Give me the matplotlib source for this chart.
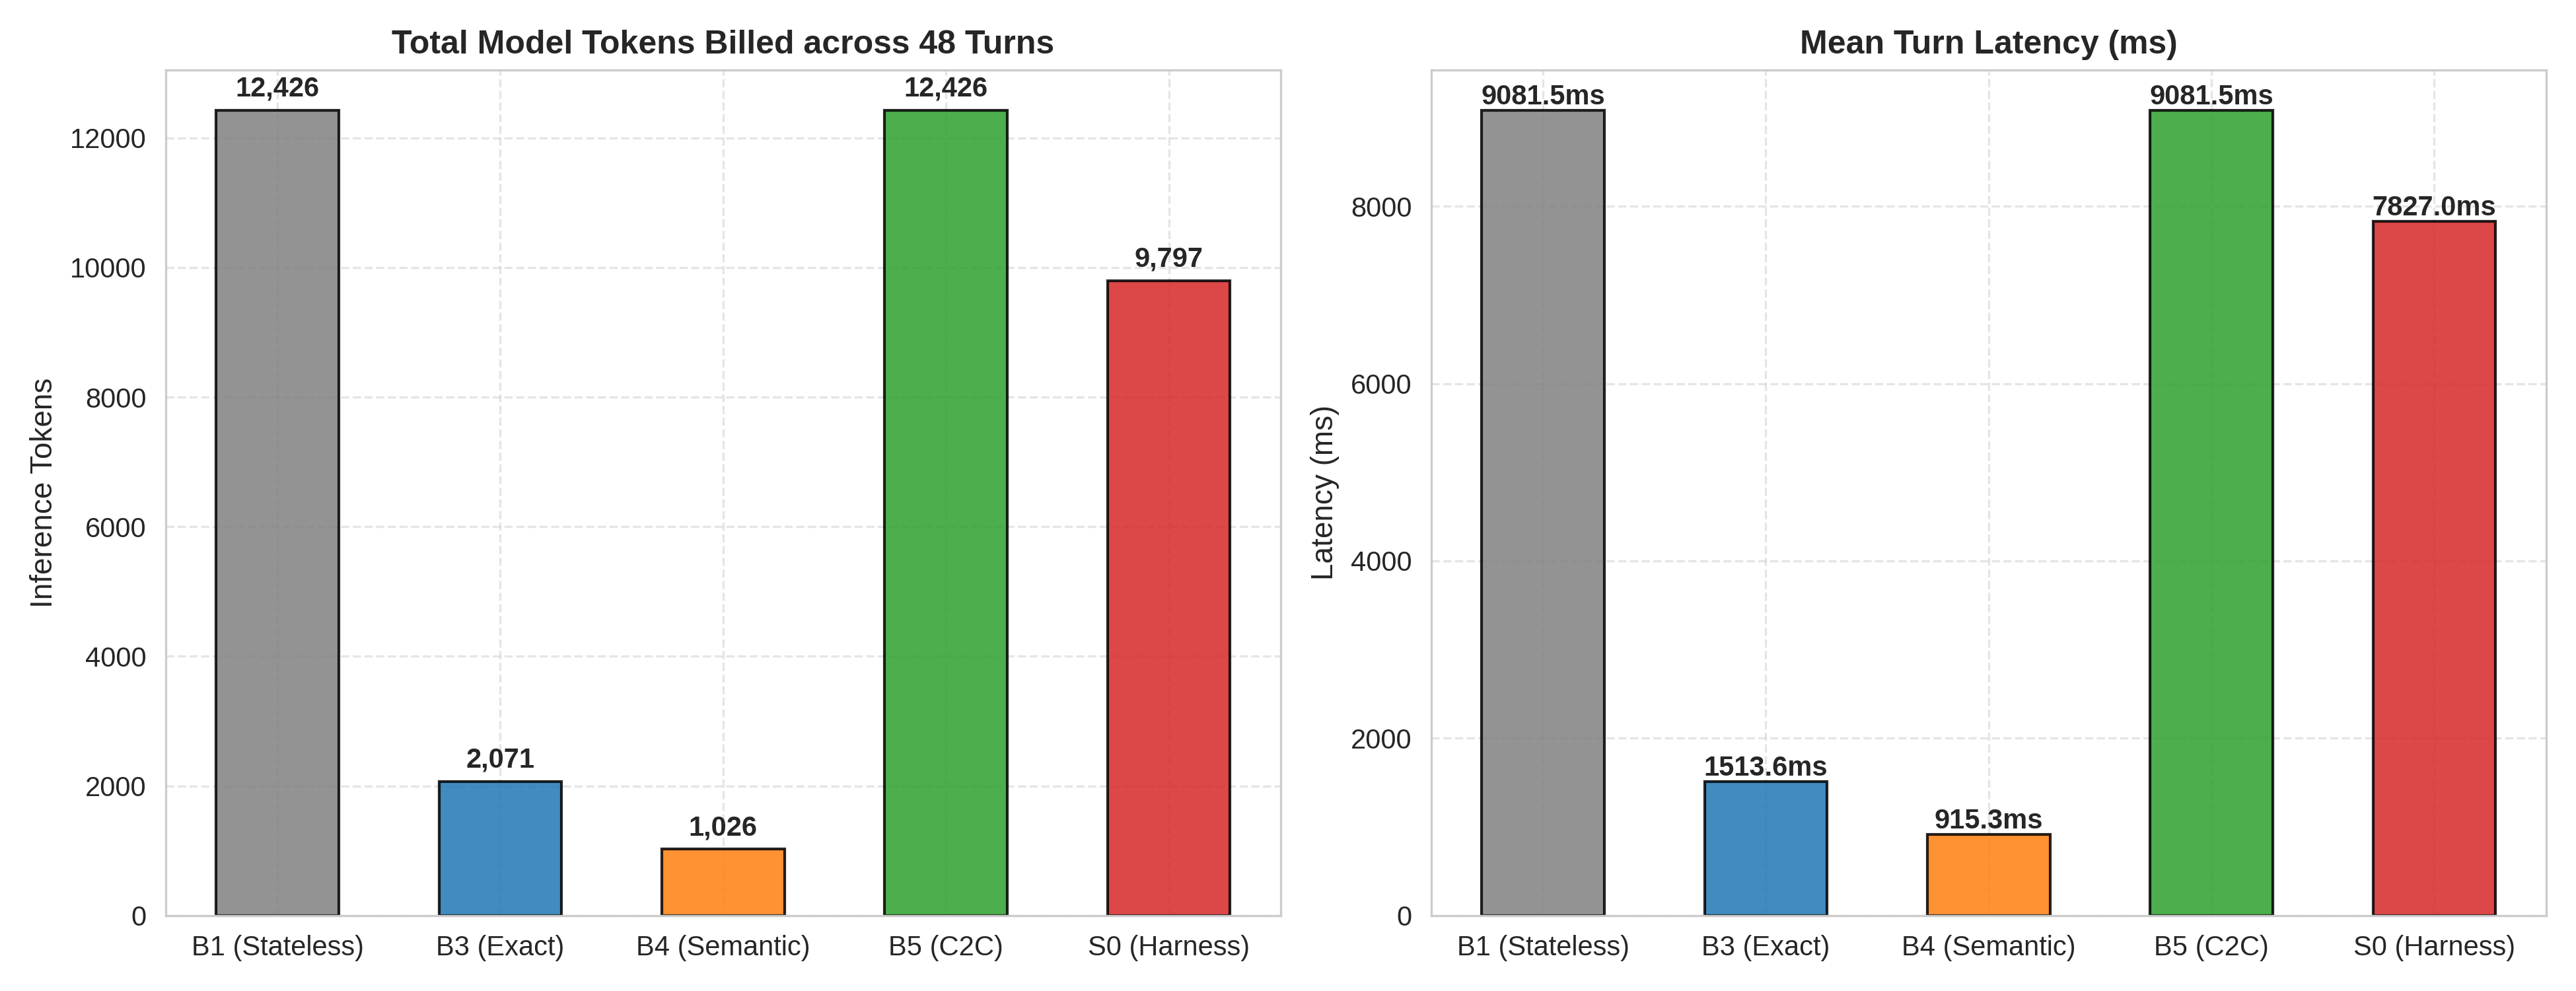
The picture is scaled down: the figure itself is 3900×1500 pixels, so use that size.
import matplotlib
matplotlib.use("Agg")
import matplotlib.pyplot as plt
import seaborn as sns

sns.set_style("whitegrid")
plt.rcParams['font.family'] = ['Liberation Sans', 'DejaVu Sans']

categories = ["B1 (Stateless)", "B3 (Exact)", "B4 (Semantic)", "B5 (C2C)", "S0 (Harness)"]
tokens = [12426, 2071, 1026, 12426, 9797]
latency = [9081.5, 1513.6, 915.3, 9081.5, 7827.0]
colors = ["gray", "#1f77b4", "#ff7f0e", "#2ca02c", "#d62728"]

fig, axes = plt.subplots(1, 2, figsize=(13, 5), dpi=300)

for ax in axes:
    ax.grid(True, linestyle="--", alpha=0.5)
    ax.set_axisbelow(True)
    for s in ax.spines.values():
        s.set_color("#cccccc")

ax = axes[0]
x = range(len(categories))
ax.bar(x, tokens, color=colors, alpha=0.85, edgecolor="black", linewidth=1, width=0.55)
ax.set_xticks(list(x))
ax.set_xticklabels(categories, fontsize=10)
ax.set_ylim(0, max(tokens) * 1.05)
ax.set_title("Total Model Tokens Billed across 48 Turns", fontsize=12, fontweight="bold")
ax.set_ylabel("Inference Tokens", fontsize=11)
for i, v in enumerate(tokens):
    ax.text(i, v + max(tokens) * 0.01, f"{v:,}", ha="center", va="bottom", fontsize=10, fontweight="bold")

ax = axes[1]
ax.bar(x, latency, color=colors, alpha=0.85, edgecolor="black", linewidth=1, width=0.55)
ax.set_xticks(list(x))
ax.set_xticklabels(categories, fontsize=10)
ax.set_ylim(0, max(latency) * 1.05)
ax.set_title("Mean Turn Latency (ms)", fontsize=12, fontweight="bold")
ax.set_ylabel("Latency (ms)", fontsize=11)
for i, v in enumerate(latency):
    ax.text(i, v, f"{v:.1f}ms", ha="center", va="bottom", fontsize=10, fontweight="bold")

for ax in axes:
    ax.tick_params(axis="y", labelsize=10)

plt.tight_layout()
plt.savefig("out.png", dpi=300)
